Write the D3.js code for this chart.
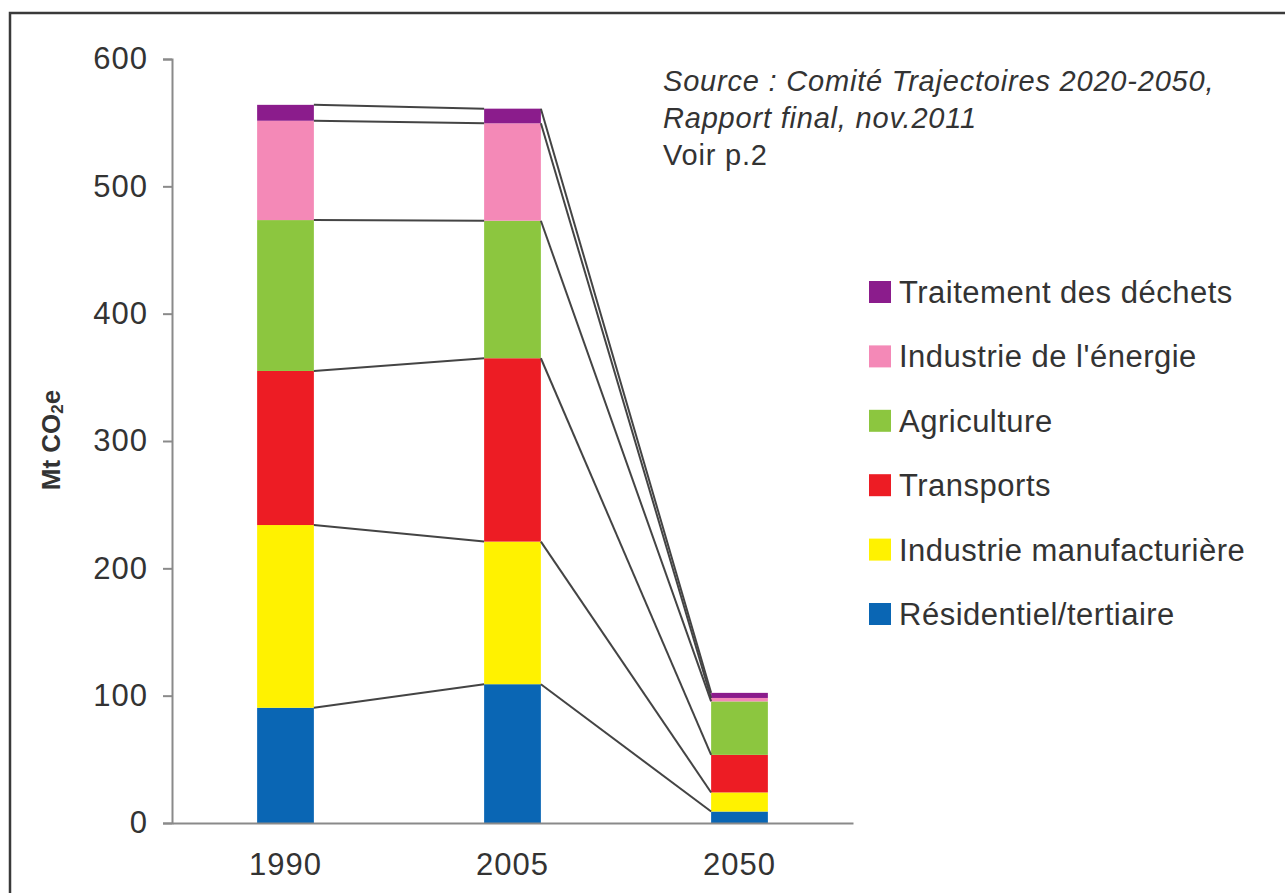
<!DOCTYPE html>
<html>
<head>
<meta charset="utf-8">
<script src="https://cdn.jsdelivr.net/npm/d3@7/dist/d3.min.js"></script>
<style>
  html, body { margin: 0; padding: 0; background: #fff; }
  svg { display: block; }
  text { font-family: "Liberation Sans", Arial, sans-serif; fill: #333; }
</style>
</head>
<body>
<svg id="chart" width="1285" height="893"></svg>
<script>
const years = ["1990", "2005", "2050"];
const sectors = ["Résidentiel/tertiaire", "Industrie manufacturière", "Transports", "Agriculture", "Industrie de l'énergie", "Traitement des déchets"];
const residentiel = [90.5, 109, 9];
const manufacturiere = [143.5, 112, 15];
const transports = [121, 144, 29.5];
const agriculture = [118.5, 108, 42];
const energie = [78, 76.5, 2.7];
const dechets = [12.5, 11.5, 4];
const sectorColors = ["#0a66b4", "#fff200", "#ed1c24", "#8cc63f", "#f489b7", "#8b1c8c"];
const yTicks = [0, 100, 200, 300, 400, 500, 600];
const sourceLines = ["Source : Comité Trajectoires 2020-2050,", "Rapport final, nov.2011", "Voir p.2"];

const seriesValues = [residentiel, manufacturiere, transports, agriculture, energie, dechets];
const table = years.map((yr, i) => {
  const row = { year: yr };
  sectors.forEach((s, k) => { row[s] = seriesValues[k][i]; });
  return row;
});
const stacked = d3.stack().keys(sectors)(table);

const svg = d3.select("#chart");

// outer frame
svg.append("rect")
  .attr("x", 10).attr("y", 13).attr("width", 1300).attr("height", 900)
  .attr("fill", "none").attr("stroke", "#3a3a3a").attr("stroke-width", 2.5);

const x = d3.scaleBand().domain(years).range([172, 853]).paddingInner(0.75).paddingOuter(0.375);
const y = d3.scaleLinear().domain([0, 600]).range([823, 59]);
const color = d3.scaleOrdinal().domain(sectors).range(sectorColors);

// bars
const g = svg.append("g");
g.selectAll("g.series")
  .data(stacked)
  .join("g")
  .attr("class", "series")
  .attr("fill", d => color(d.key))
  .selectAll("rect")
  .data(d => d)
  .join("rect")
  .attr("x", d => x(d.data.year))
  .attr("width", x.bandwidth())
  .attr("y", d => y(d[1]))
  .attr("height", d => y(d[0]) - y(d[1]));

// series lines connecting segment tops
const conn = svg.append("g").attr("stroke", "#444").attr("stroke-width", 2).attr("fill", "none");
stacked.forEach(s => {
  for (let i = 0; i < years.length - 1; i++) {
    conn.append("line")
      .attr("x1", x(years[i]) + x.bandwidth())
      .attr("y1", y(s[i][1]))
      .attr("x2", x(years[i + 1]))
      .attr("y2", y(s[i + 1][1]));
  }
});

// y axis
const yAxis = svg.append("g")
  .attr("transform", "translate(172,0)")
  .call(d3.axisLeft(y).tickValues(yTicks).tickSize(9).tickPadding(15));
yAxis.select(".domain").attr("stroke", "#8a8a8a").attr("stroke-width", 2);
yAxis.selectAll(".tick line").attr("stroke", "#8a8a8a").attr("stroke-width", 2);
yAxis.selectAll(".tick text")
  .attr("font-size", 31).attr("fill", "#333").attr("letter-spacing", 1)
  .style("font-family", "'Liberation Sans', Arial, sans-serif");

// x axis
const xAxis = svg.append("g")
  .attr("transform", "translate(0,823)")
  .call(d3.axisBottom(x).tickSize(0).tickPadding(30).tickSizeOuter(0));
xAxis.select(".domain").attr("stroke", "#8a8a8a").attr("stroke-width", 2);
xAxis.selectAll(".tick text")
  .attr("font-size", 31).attr("fill", "#333").attr("letter-spacing", 1)
  .style("font-family", "'Liberation Sans', Arial, sans-serif");

// y axis title
const yt = svg.append("text")
  .attr("transform", "translate(60,440) rotate(-90)")
  .attr("text-anchor", "middle")
  .attr("font-size", 26).attr("font-weight", "bold").attr("fill", "#222");
yt.append("tspan").text("Mt CO");
yt.append("tspan").attr("font-size", 17).attr("dy", 3).text("2");
yt.append("tspan").attr("dy", -3).text("e");

// source note
const src = svg.append("g");
sourceLines.forEach((t, i) => {
  src.append("text")
    .attr("x", 663).attr("y", 91 + i * 37)
    .attr("font-style", i < 2 ? "italic" : "normal")
    .attr("font-size", 29)
    .attr("letter-spacing", 0.8)
    .attr("fill", "#333")
    .text(t);
});

// legend
const legendOrder = sectors.slice().reverse();
const leg = svg.append("g");
legendOrder.forEach((s, i) => {
  const cy = 292 + i * 64.4;
  leg.append("rect").attr("x", 869).attr("y", cy - 11).attr("width", 22).attr("height", 22).attr("fill", color(s));
  leg.append("text").attr("x", 899).attr("y", cy + 11).attr("font-size", 31)
    .attr("letter-spacing", 0.5).attr("fill", "#333").text(s);
});
</script>
</body>
</html>
